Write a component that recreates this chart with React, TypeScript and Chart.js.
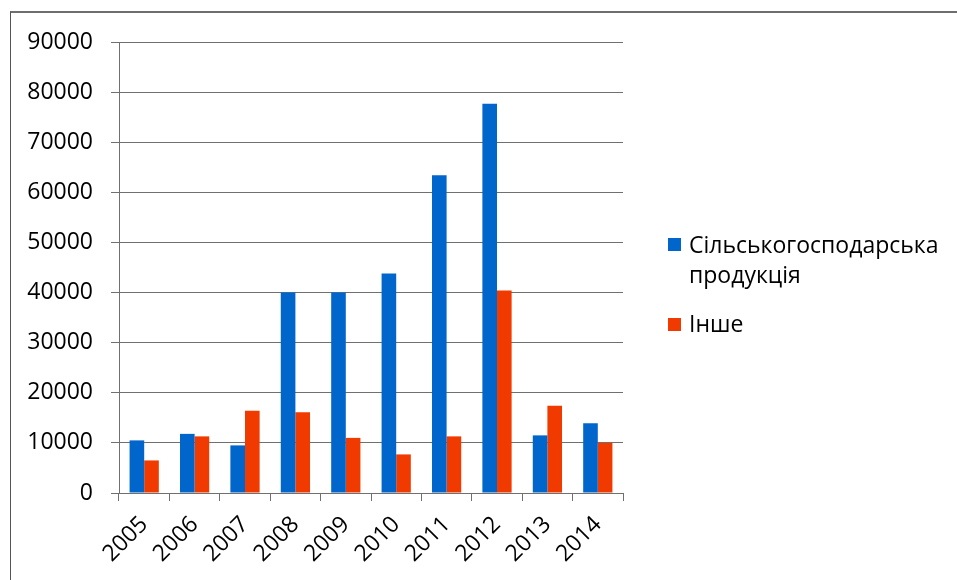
import React, { useEffect, useRef } from "react";
import { Chart, registerables } from "chart.js";

Chart.register(...registerables);

const years = ["2005", "2006", "2007", "2008", "2009", "2010", "2011", "2012", "2013", "2014"];
const agriculture = [10500, 11800, 9500, 40000, 40000, 43800, 63400, 77700, 11500, 13900];
const other = [6500, 11300, 16400, 16100, 11000, 7700, 11300, 40400, 17400, 10000];
const seriesNames = ["Сільськогосподарська продукція", "Інше"];
const seriesColors = ["#0066CC", "#F03A00"];

const FONT = "'Open Sans', sans-serif";

export default function App() {
  const canvasRef = useRef<HTMLCanvasElement | null>(null);

  useEffect(() => {
    const canvas = canvasRef.current;
    if (!canvas) return;
    const chart = new Chart(canvas, {
      type: "bar",
      data: {
        labels: years,
        datasets: [
          {
            label: seriesNames[0],
            data: agriculture,
            backgroundColor: seriesColors[0],
            borderWidth: 0,
          },
          {
            label: seriesNames[1],
            data: other,
            backgroundColor: seriesColors[1],
            borderWidth: 0,
          },
        ],
      },
      options: {
        responsive: false,
        animation: false,
        layout: { padding: { left: 0, top: 42, right: 334, bottom: 0 } },
        plugins: {
          legend: { display: false },
          tooltip: { enabled: false },
        },
        datasets: {
          bar: { categoryPercentage: 0.58, barPercentage: 1 },
        },
        scales: {
          x: {
            offset: true,
            grid: {
              display: true,
              drawOnChartArea: false,
              drawTicks: true,
              tickLength: 8,
              color: "#707070",
              offset: true,
            },
            border: { display: true, color: "#707070", width: 1 },
            ticks: {
              font: { family: FONT, size: 23 },
              color: "#000000",
              maxRotation: 45,
              minRotation: 45,
              padding: 10,
              autoSkip: false,
            },
            afterFit: (scale: any) => {
              scale.height = 87;
            },
          },
          y: {
            min: 0,
            max: 90000,
            grid: {
              color: "#707070",
              tickLength: 8,
              drawTicks: true,
            },
            border: { display: true, color: "#707070", width: 1 },
            ticks: {
              stepSize: 10000,
              font: { family: FONT, size: 23 },
              color: "#000000",
              padding: 18,
              callback: (v: any) => String(v),
            },
            afterFit: (scale: any) => {
              scale.width = 119;
            },
          },
        },
      },
    });
    return () => chart.destroy();
  }, []);

  const legendText: React.CSSProperties = {
    position: "absolute",
    left: 689,
    fontFamily: FONT,
    fontSize: 23,
    lineHeight: "30px",
    color: "#000",
    width: 268,
    whiteSpace: "normal",
  };

  return (
    <div
      style={{
        position: "absolute",
        left: 0,
        top: 0,
        width: 957,
        height: 580,
        background: "#fff",
        overflow: "hidden",
      }}
    >
      <canvas ref={canvasRef} width={957} height={580} style={{ display: "block" }} />
      <div
        style={{
          position: "absolute",
          left: 10,
          top: 11,
          width: 947,
          height: 569,
          borderTop: "2px solid #6e6e6e",
          borderLeft: "1px solid #555",
          pointerEvents: "none",
        }}
      />
      <div style={{ position: "absolute", left: 668, top: 238, width: 13, height: 13, background: seriesColors[0] }} />
      <div style={{ ...legendText, top: 229 }}>{seriesNames[0]}</div>
      <div style={{ position: "absolute", left: 668, top: 318, width: 13, height: 13, background: seriesColors[1] }} />
      <div style={{ ...legendText, top: 308 }}>{seriesNames[1]}</div>
    </div>
  );
}
